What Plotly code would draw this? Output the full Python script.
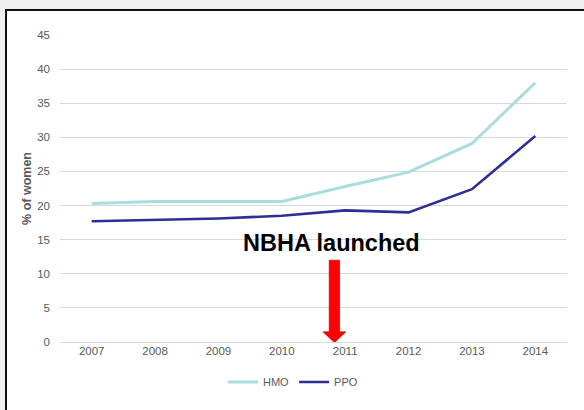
import plotly.graph_objects as go

years = ["2007", "2008", "2009", "2010", "2011", "2012", "2013", "2014"]
hmo = [20.3, 20.6, 20.6, 20.6, 22.8, 24.9, 29.1, 38.0]
ppo = [17.7, 17.9, 18.1, 18.5, 19.3, 19.0, 22.4, 30.2]
y_ticks = [0, 5, 10, 15, 20, 25, 30, 35, 40, 45]
annotation_text = "NBHA launched"
arrow_index = 3.83  # category index where the arrow points (just left of 2011)

W, H = 584, 410
ML, MR, MT, MB = 60, 17, 35, 68
PW, PH = W - ML - MR, H - MT - MB
N = len(years)

def xp(px):
    return (px - ML) / PW

def yp(py):
    return (H - MB - py) / PH

grey = "#595959"
fig = go.Figure()
fig.add_trace(go.Scatter(x=years, y=hmo, mode="lines", name="HMO",
                         line=dict(color="#a9dcdd", width=3)))
fig.add_trace(go.Scatter(x=years, y=ppo, mode="lines", name="PPO",
                         line=dict(color="#2e2e96", width=2.6)))

# arrow in paper-x / data-y
cx = (arrow_index + 0.5) / N
sw = 5.2 / PW
hw = 11.5 / PW
path = (f"M {cx - sw},12 L {cx + sw},12 L {cx + sw},1.5 L {cx + hw},1.5 "
        f"L {cx},-0.1 L {cx - hw},1.5 L {cx - sw},1.5 Z")
fig.add_shape(type="path", path=path, xref="paper", yref="y",
              fillcolor="#ff0000", line=dict(color="#b00000", width=0.6), layer="above")

# frame decoration (slide background)
fig.add_shape(type="rect", xref="paper", yref="paper", x0=-0.2, x1=1.2,
              y0=yp(9.5), y1=1.3, fillcolor="#efefef", line=dict(width=0))
fig.add_shape(type="rect", xref="paper", yref="paper", x0=-0.2, x1=xp(5),
              y0=-0.5, y1=1.3, fillcolor="#efefef", line=dict(width=0))
fig.add_shape(type="line", xref="paper", yref="paper", x0=xp(5), x1=1.2,
              y0=yp(10), y1=yp(10), line=dict(color="#111111", width=2))
fig.add_shape(type="line", xref="paper", yref="paper", x0=xp(6), x1=xp(6),
              y0=-0.5, y1=yp(10), line=dict(color="#111111", width=2))

fig.add_annotation(text="<b>" + annotation_text + "</b>", xref="paper", yref="paper",
                   x=xp(331), y=yp(242.5), showarrow=False, xanchor="center", yanchor="middle",
                   font=dict(family="Liberation Sans, Arial", size=23.5, color="#000000"))

fig.update_layout(
    width=W, height=H,
    margin=dict(l=ML, r=MR, t=MT, b=MB, pad=0, autoexpand=False),
    paper_bgcolor="white", plot_bgcolor="white",
    font=dict(family="Liberation Sans, Arial", size=12, color=grey),
    showlegend=True,
    legend=dict(orientation="h", x=xp(293), xanchor="center", y=yp(382), yanchor="middle",
                font=dict(size=11, color=grey), itemwidth=30, bgcolor="rgba(0,0,0,0)"),
    xaxis=dict(type="category", range=[-0.5, N - 0.5], showgrid=False, zeroline=False,
               showline=False, ticks="", automargin=False, tickfont=dict(size=11.5, color=grey)),
    yaxis=dict(range=[0, 45], tickvals=y_ticks, showgrid=True, gridcolor="#d9d9d9",
               gridwidth=1, zeroline=True, zerolinecolor="#d9d9d9", zerolinewidth=1,
               showline=False, ticks="", ticklabelstandoff=9, automargin=False,
               tickfont=dict(size=11.5, color=grey),
               title=dict(text="<b>% of women</b>", standoff=2,
                          font=dict(size=12.5, color=grey))),
)

fig.write_html("out.html", config={"displayModeBar": False},
               post_script="document.body.style.margin='0';")
